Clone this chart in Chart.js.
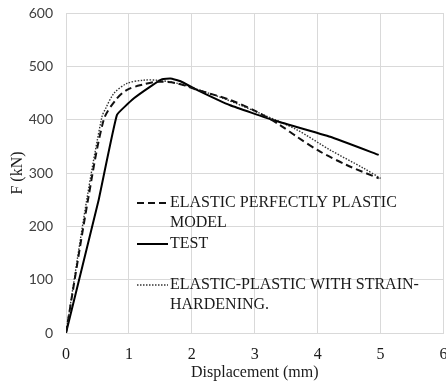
<!DOCTYPE html>
<html lang="en">
<head>
    <meta charset="UTF-8">
    <script src="https://cdn.jsdelivr.net/npm/chart.js"></script>
    <style>
        body {
            margin: 0;
            background: #ffffff;
        }
        .chart-box {
            width: 446px;
            height: 382px;
        }
    </style>
</head>
<body>
    <div class="chart-box">
        <canvas id="fdChart"></canvas>
    </div>
    <script>
        // Displacement (mm) / Force (kN)
        const testX = [0, 0.52, 0.81, 1.08, 1.34, 1.53, 1.66, 1.82, 2.08, 2.61, 3.30, 4.20, 4.97];
        const testY = [0, 250, 409, 440, 462, 476, 477, 472, 456, 427, 399, 368, 334];

        const eppX = [0, 0.35, 0.60, 0.79, 0.97, 1.23, 1.45, 1.77, 2.08, 2.61, 3.03, 3.40, 3.67, 4.04, 4.46, 4.97];
        const eppY = [0, 250, 400, 437, 456, 466, 471, 468, 456, 437, 415, 390, 368, 340, 315, 290];

        const hardX = [0, 0.33, 0.57, 0.63, 0.76, 0.97, 1.23, 1.45, 1.77, 2.08, 2.50, 3.14, 3.67, 4.20, 4.73, 5.00];
        const hardY = [0, 250, 405, 421, 449, 468, 474, 474, 468, 457, 440, 409, 381, 343, 309, 290];

        const eppLabel = ['ELASTIC PERFECTLY PLASTIC', 'MODEL'];
        const testLabel = ['TEST'];
        const hardLabel = ['ELASTIC-PLASTIC WITH STRAIN-', 'HARDENING.'];

        const xTicks = [0, 1, 2, 3, 4, 5, 6];
        const yTicks = [0, 100, 200, 300, 400, 500, 600];

        const serif = '"Liberation Serif", "Times New Roman", serif';

        function toPoints(xs, ys) {
            return xs.map((x, i) => ({ x: x, y: ys[i] }));
        }

        // legend drawn inside the plot, like the original
        const insideLegend = {
            id: 'insideLegend',
            afterDraw(chart) {
                const ctx = chart.ctx;
                const rows = [
                    { ds: 0, y: 203 },
                    { ds: 1, y: 244 },
                    { ds: 2, y: 285 }
                ];
                ctx.save();
                ctx.font = '16px ' + serif;
                ctx.fillStyle = '#1a1a1a';
                ctx.textBaseline = 'middle';
                rows.forEach(r => {
                    const ds = chart.data.datasets[r.ds];
                    ctx.beginPath();
                    ctx.strokeStyle = ds.borderColor;
                    ctx.lineWidth = ds.borderWidth;
                    ctx.setLineDash(ds.borderDash || []);
                    ctx.moveTo(137, r.y);
                    ctx.lineTo(168, r.y);
                    ctx.stroke();
                    ds.legendLines.forEach((line, i) => {
                        ctx.fillText(line, 170, r.y + i * 19.5);
                    });
                });
                ctx.restore();
            }
        };

        const ctx = document.getElementById('fdChart').getContext('2d');
        new Chart(ctx, {
            type: 'line',
            data: {
                datasets: [{
                    label: eppLabel.join(' '),
                    legendLines: eppLabel,
                    data: toPoints(eppX, eppY),
                    borderColor: '#111111',
                    borderWidth: 2,
                    borderDash: [7, 4],
                    tension: 0.3,
                    pointRadius: 0
                }, {
                    label: testLabel.join(' '),
                    legendLines: testLabel,
                    data: toPoints(testX, testY),
                    borderColor: '#000000',
                    borderWidth: 2,
                    tension: 0.1,
                    pointRadius: 0
                }, {
                    label: hardLabel.join(' '),
                    legendLines: hardLabel,
                    data: toPoints(hardX, hardY),
                    borderColor: '#333333',
                    borderWidth: 1.4,
                    borderDash: [1.5, 1.5],
                    tension: 0.3,
                    pointRadius: 0
                }]
            },
            options: {
                responsive: true,
                maintainAspectRatio: false,
                animation: false,
                layout: {
                    padding: 0
                },
                plugins: {
                    legend: { display: false },
                    tooltip: { enabled: false }
                },
                scales: {
                    x: {
                        type: 'linear',
                        min: 0,
                        max: 6,
                        afterBuildTicks: axis => { axis.ticks = xTicks.map(v => ({ value: v })); },
                        afterFit: axis => {
                            axis.height = 49;
                            axis.paddingRight = 2.5;
                        },
                        grid: { color: '#d9d9d9', drawTicks: false },
                        border: { color: '#d9d9d9' },
                        ticks: {
                            padding: 12,
                            color: '#1a1a1a',
                            font: { family: serif, size: 16 }
                        },
                        title: {
                            display: true,
                            text: 'Displacement (mm)',
                            color: '#1a1a1a',
                            padding: { top: 7, bottom: 0 },
                            font: { family: serif, size: 16 }
                        }
                    },
                    y: {
                        min: 0,
                        max: 600,
                        afterBuildTicks: axis => { axis.ticks = yTicks.map(v => ({ value: v })); },
                        afterFit: axis => {
                            axis.width = 66;
                            axis.paddingTop = 13;
                            axis.paddingBottom = 0;
                        },
                        grid: { color: '#d9d9d9', drawTicks: false },
                        border: { color: '#d9d9d9' },
                        ticks: {
                            padding: 13,
                            color: '#404040',
                            font: { family: 'Lato, "Open Sans", sans-serif', size: 14 }
                        },
                        title: {
                            display: true,
                            text: 'F (kN)',
                            color: '#1a1a1a',
                            padding: { top: 8, bottom: 2 },
                            font: { family: serif, size: 16 }
                        }
                    }
                }
            },
            plugins: [insideLegend]
        });
    </script>
</body>
</html>
